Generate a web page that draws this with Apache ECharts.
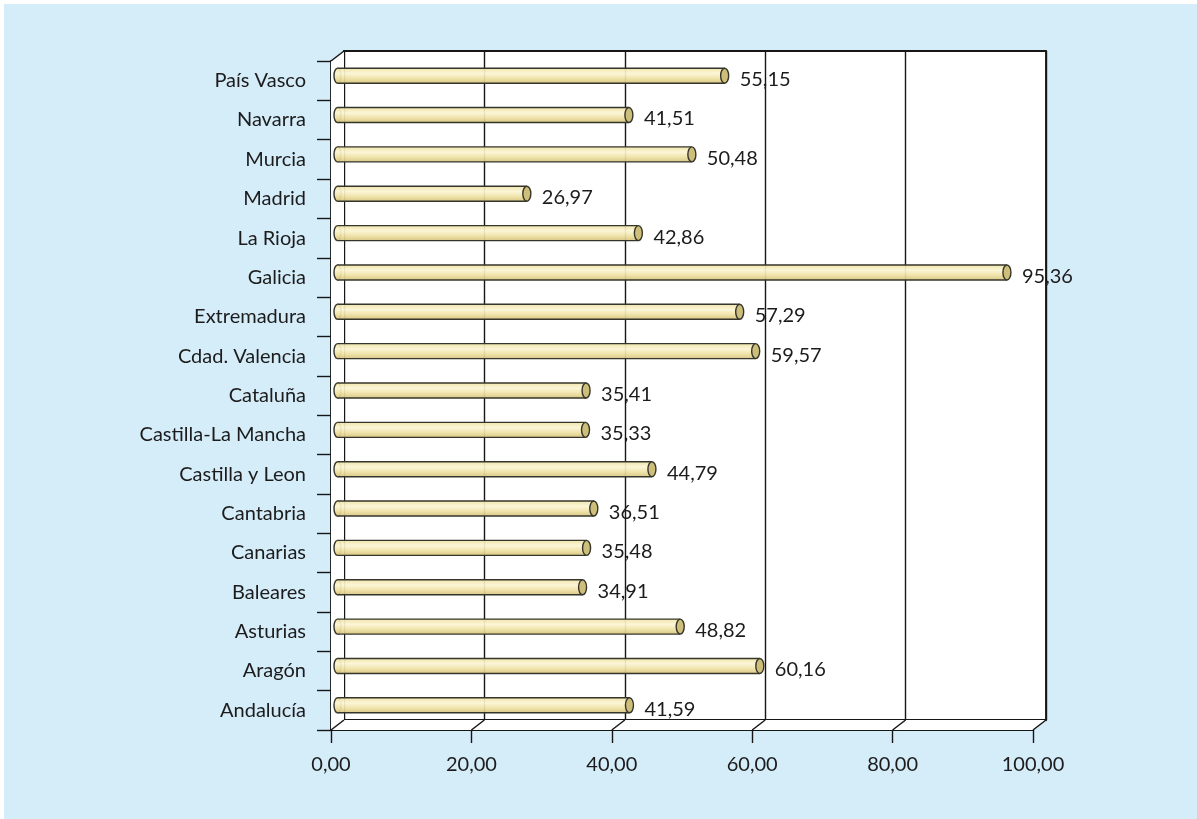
<!DOCTYPE html>
<html>
<head>
<meta charset="utf-8">
<script src="https://cdn.jsdelivr.net/npm/echarts@6/dist/echarts.min.js"></script>
<style>
  html, body { margin: 0; padding: 0; background: #fff; overflow: hidden; }
  #chart { position: absolute; left: 4px; top: 4px; width: 1200px; height: 820px; }
</style>
</head>
<body>
<div id="chart"></div>
<script>
// categories listed bottom to top, as on the axis
const categories = [
  "Andalucía", "Aragón", "Asturias", "Baleares", "Canarias", "Cantabria",
  "Castilla y Leon", "Castilla-La Mancha", "Cataluña", "Cdad. Valencia",
  "Extremadura", "Galicia", "La Rioja", "Madrid", "Murcia", "Navarra", "País Vasco"
];
const values = [
  41.59, 60.16, 48.82, 34.91, 35.48, 36.51,
  44.79, 35.33, 35.41, 59.57,
  57.29, 95.36, 42.86, 26.97, 50.48, 41.51, 55.15
];
const xTicks = [0, 20, 40, 60, 80, 100];

const DX = 13, DY = -10; // depth of the 3d box
const font = "Lato, 'Open Sans', sans-serif";
const txt = "#1c1c1c";
const fmt = v => v.toFixed(2).replace(".", ",");

const chart = echarts.init(document.getElementById("chart"));

const barFill = new echarts.graphic.LinearGradient(0, 0, 0, 1, [
  { offset: 0, color: "#efe3a6" },
  { offset: 0.35, color: "#fbf5d4" },
  { offset: 0.7, color: "#eee0a2" },
  { offset: 1, color: "#d6c47e" }
]);

const option = {
  backgroundColor: "#d5ecf9",
  animation: false,
  grid: [
    { left: 327, top: 57, width: 702, height: 669 },
    { left: 340, top: 47, width: 702, height: 669, show: true, backgroundColor: "#fff", borderColor: "#161616", borderWidth: 1.8 }
  ],
  xAxis: [
    {
      gridIndex: 0, type: "value", min: 0, max: 100, interval: 20,
      axisLine: { show: true, lineStyle: { color: "#161616", width: 1.8 } },
      axisTick: { show: true, length: 13, lineStyle: { color: "#161616", width: 1.4 } },
      axisLabel: { margin: 25, fontSize: 20, color: txt, fontFamily: font, formatter: fmt },
      splitLine: { show: false }
    },
    {
      gridIndex: 1, type: "value", min: 0, max: 100, interval: 20,
      axisLine: { show: false }, axisTick: { show: false }, axisLabel: { show: false },
      splitLine: { show: true, lineStyle: { color: "#161616", width: 1.4 } }
    }
  ],
  yAxis: [
    {
      gridIndex: 0, type: "category", data: categories, boundaryGap: true,
      axisLine: { show: true, lineStyle: { color: "#161616", width: 1.8 } },
      axisTick: { show: true, length: 14, lineStyle: { color: "#161616", width: 1.4 } },
      axisLabel: { margin: 25, fontSize: 20, color: txt, fontFamily: font }
    },
    {
      gridIndex: 1, type: "value", show: false
    }
  ],
  series: [
    {
      // side wall, floor and the depth edges
      type: "custom",
      xAxisIndex: 0, yAxisIndex: 0,
      z: 1,
      silent: true,
      data: [[0, 0]],
      renderItem: function (params, api) {
        const cs = params.coordSys;
        const x = cs.x, y = cs.y, w = cs.width, h = cs.height;
        const line = { stroke: "#161616", lineWidth: 1.5 };
        const children = [
          { type: "polygon", shape: { points: [[x, y], [x + DX, y + DY], [x + DX, y + h + DY], [x, y + h]] }, style: { fill: "#fff" } },
          { type: "polygon", shape: { points: [[x, y + h], [x + DX, y + h + DY], [x + w + DX, y + h + DY], [x + w, y + h]] }, style: { fill: "#fff" } },
          { type: "line", shape: { x1: x, y1: y, x2: x + DX, y2: y + DY }, style: line }
        ];
        xTicks.forEach(function (t) {
          const px = api.coord([t, 0])[0];
          children.push({ type: "line", shape: { x1: px, y1: y + h, x2: px + DX, y2: y + h + DY }, style: line });
        });
        return { type: "group", children: children };
      }
    },
    {
      // cylinder bars
      type: "custom",
      xAxisIndex: 0, yAxisIndex: 0,
      z: 3,
      data: values.map((v, i) => [v, i]),
      renderItem: function (params, api) {
        const v = api.value(0);
        const c = api.value(1);
        const s = api.coord([0, c]);
        const e = api.coord([v, c]);
        const cy = s[1] + DY / 2;
        const sx = s[0] + DX / 2;
        const ex = e[0] + DX / 2;
        const hh = 7.5, rxL = 3.5, rxR = 4;
        const stroke = "#35352b";
        return {
          type: "group",
          children: [
            { type: "ellipse", shape: { cx: sx, cy: cy, rx: rxL, ry: hh }, style: { fill: barFill, stroke: stroke, lineWidth: 1.4 } },
            { type: "rect", shape: { x: sx, y: cy - hh, width: ex - sx, height: hh * 2 }, style: { fill: barFill, opacity: 0.93 } },
            { type: "line", shape: { x1: sx, y1: cy - hh, x2: ex, y2: cy - hh }, style: { stroke: stroke, lineWidth: 1.4 } },
            { type: "line", shape: { x1: sx, y1: cy + hh, x2: ex, y2: cy + hh }, style: { stroke: stroke, lineWidth: 1.4 } },
            { type: "ellipse", shape: { cx: ex, cy: cy, rx: rxR, ry: hh }, style: { fill: "#cdbf7a", stroke: stroke, lineWidth: 1.4 } },
            {
              type: "text",
              style: {
                text: fmt(v), x: ex + rxR + 11, y: s[1] - 1,
                verticalAlign: "middle", align: "left",
                fill: txt, font: "20px " + font
              }
            }
          ]
        };
      }
    }
  ]
};

chart.setOption(option);
</script>
</body>
</html>
